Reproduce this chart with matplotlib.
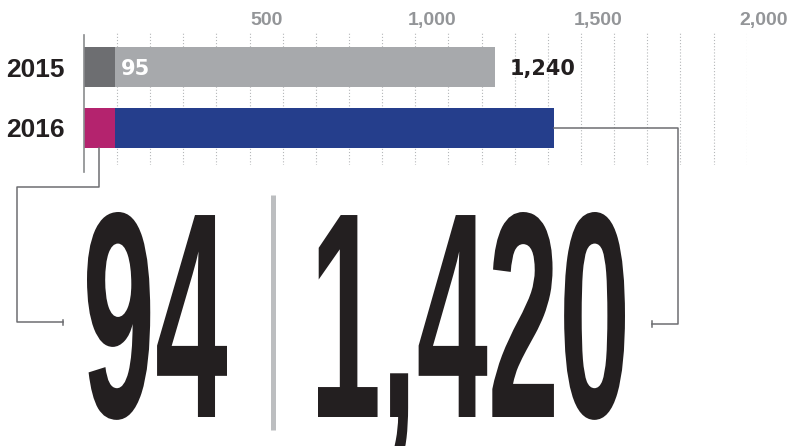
import matplotlib
matplotlib.use('Agg')
import matplotlib.pyplot as plt
import numpy as np
from matplotlib.patheffects import AbstractPathEffect
from matplotlib.transforms import Affine2D, ScaledTranslation

# data
years = ['2015', '2016']
first_part = [95, 94]
totals = [1240, 1420]
major_ticks = [500, 1000, 1500, 2000]
minor_ticks = list(range(100, 2001, 100))

first_colors = ['#6d6e71', '#b4236e']
rest_colors = ['#a7a9ac', '#253e8c']
ink = '#231f20'
line_c = '#6d6e71'

narrow = ['Liberation Sans Narrow', 'Liberation Sans', 'DejaVu Sans']


class Fit(AbstractPathEffect):
    """Scale glyphs about the text origin so the ink is w wide and h tall
    above the baseline (both as figure fractions) -> condensed display type."""

    def __init__(self, w, h):
        super().__init__()
        self.w = w
        self.h = h

    def draw_path(self, renderer, gc, tpath, affine, rgbFace=None):
        ext = tpath.get_extents(affine)
        x0, y0 = affine.transform((0, 0))
        sx = self.w * renderer.width / ext.width
        sy = self.h * renderer.height / (ext.y1 - y0)
        fit = Affine2D().translate(-ext.x0, -y0).scale(sx, sy).translate(x0, y0)
        renderer.draw_path(gc, tpath, affine + fit, rgbFace)


W, H = 793, 446
fig = plt.figure(figsize=(W / 100, H / 100), dpi=100)

# bar chart
ax = fig.add_axes([83.8 / W, (H - 165) / H, (746.7 - 83.8) / W, 133 / H])
ax.patch.set_alpha(0)
y = np.arange(len(years))
bar_h = 0.656
rest = np.array(totals) - np.array(first_part)
ax.barh(y, first_part, height=bar_h, color=first_colors)
ax.barh(y, rest, left=first_part, height=bar_h, color=rest_colors)
ax.set_xlim(0, 2000)
ax.set_ylim(1.607, -0.574)

ax.xaxis.tick_top()
ax.set_xticks(major_ticks, [f'{t:,}' for t in major_ticks])
ax.set_xticks(minor_ticks, minor=True)
ax.tick_params(axis='x', which='both', length=0, pad=2, labelsize=14, labelcolor='#939598')
shift = ScaledTranslation(0.17, 0, fig.dpi_scale_trans)
for lbl in ax.get_xticklabels():
    lbl.set_fontweight('bold')
    lbl.set_family(['Liberation Sans', 'DejaVu Sans'])
    lbl.set_transform(lbl.get_transform() + shift)

ax.set_yticks(y, years)
ax.tick_params(axis='y', length=0, pad=14, labelsize=19, labelcolor=ink)
for lbl in ax.get_yticklabels():
    lbl.set_fontweight('bold')
    lbl.set_family(narrow)

ax.grid(axis='x', which='both', color='#b5b7b9', lw=0.8, ls=(0, (1, 1.8)))
ax.set_axisbelow(True)
for s in ax.spines.values():
    s.set_visible(False)
ax.axvline(0, ymin=-0.053, ymax=0.977, color='#8a8c8e', lw=1.2, clip_on=False)

# value labels on 2015 bar
ax.annotate(f'{first_part[0]}', xy=(first_part[0], 0), xytext=(4, -5.5),
            textcoords='offset points', color='white', fontsize=15,
            fontweight='bold', va='baseline', ha='left')
ax.annotate(f'{totals[0]:,}', xy=(totals[0], 0), xytext=(11, -5.5),
            textcoords='offset points', color=ink, fontsize=15,
            fontweight='bold', va='baseline', ha='left')

# overlay in pixel units for the callouts
ov = fig.add_axes([0, 0, 1, 1])
ov.set_xlim(0, W)
ov.set_ylim(H, 0)
ov.axis('off')


def to_ov(x, yy):
    return ov.transData.inverted().transform(ax.transData.transform((x, yy)))


px, py = to_ov(first_part[1] / 2, 1 + bar_h / 2)
ov.plot([px, px, 17, 17, 63], [py, 187, 187, 322, 322], color=line_c, lw=1.1)
ov.plot([63, 63], [319.5, 325], color=line_c, lw=1.1)

bx, by = to_ov(totals[1], 1)
ov.plot([bx, 678, 678, 652], [by, by, 324, 324], color=line_c, lw=1.1)
ov.plot([652, 652], [321, 327], color=line_c, lw=1.1)

# separator between the big numbers
ov.plot([273, 273], [195, 430], color='#bcbec0', lw=3.6, solid_capstyle='butt')

big = dict(fontsize=93, fontweight='bold', family=narrow, color=ink,
           va='baseline', ha='left')
ov.text(87, 417, f'{first_part[1]}', path_effects=[Fit(140 / W, 205 / H)], **big)
ov.text(318, 417, f'{totals[1]:,}', path_effects=[Fit(307 / W, 205 / H)], **big)

fig.savefig('out.png', dpi=100)
plt.close(fig)
